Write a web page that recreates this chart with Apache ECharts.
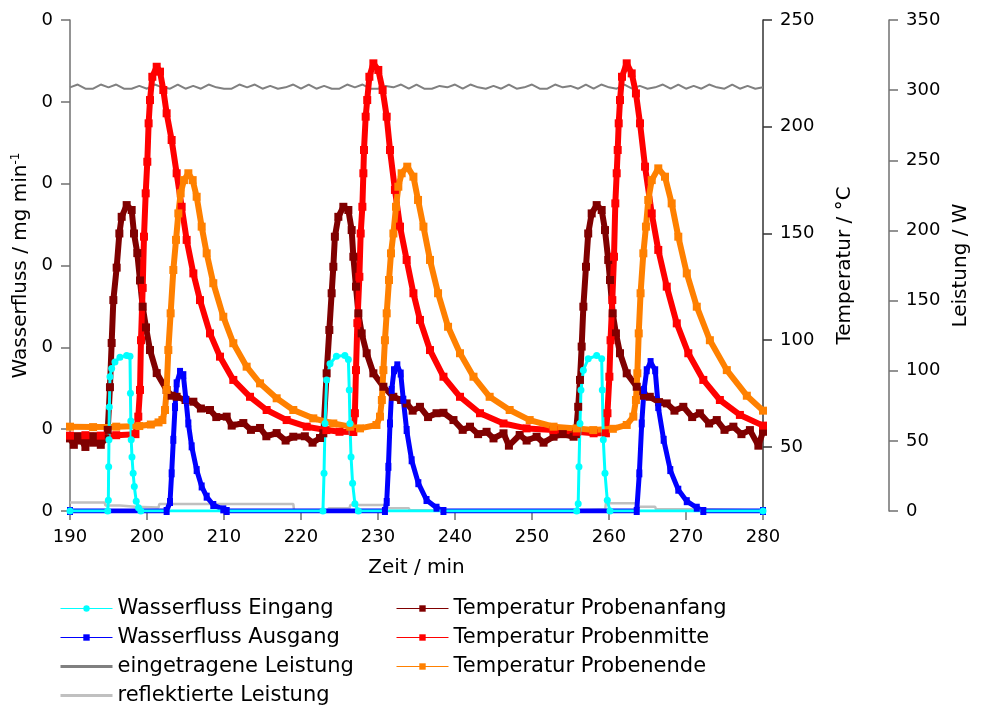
<!DOCTYPE html>
<html>
<head>
<meta charset="utf-8">
<script src="https://cdn.jsdelivr.net/npm/echarts@6/dist/echarts.min.js"></script>
<style>
html,body{margin:0;padding:0;background:#fff;}
#chart{width:982px;height:707px;}
</style>
</head>
<body>
<div id="chart"></div>
<script>
// ---------- DATA ----------
const xTicks = [190, 200, 210, 220, 230, 240, 250, 260, 270, 280];
const tempTicks = [50, 100, 150, 200, 250];
const powerTicks = [0, 50, 100, 150, 200, 250, 300, 350];

// Wasserfluss Eingang [min, mg/min]
const flowIn = [
  [190,0],[194.9,0],[194.98,0.013],[195.02,0.054],[195.06,0.087],[195.11,0.127],[195.19,0.164],
  [195.41,0.174],[195.84,0.182],[196.49,0.188],[197.36,0.19],[197.79,0.189],[197.85,0.144],
  [197.9,0.11],[197.95,0.087],[198.05,0.066],[198.2,0.046],[198.35,0.03],[198.6,0.012],[198.9,0.004],
  [199.2,0],[222.85,0],[222.99,0.046],[223.12,0.107],[223.33,0.16],[223.77,0.18],[224.6,0.189],
  [225.7,0.19],[226.15,0.185],[226.27,0.148],[226.36,0.107],[226.5,0.066],[226.7,0.034],[227.0,0.009],
  [227.45,0],[255.8,0],[256.0,0.009],[256.1,0.054],[256.23,0.107],[256.36,0.148],[256.67,0.172],
  [257.3,0.186],[258.4,0.19],[259.05,0.186],[259.13,0.148],[259.26,0.087],[259.48,0.046],
  [259.78,0.013],[260.13,0],[280,0]
];
// Wasserfluss Ausgang
const flowOut = [
  [190,0],[202.55,0],[202.99,0.011],[203.2,0.046],[203.42,0.087],[203.64,0.127],[203.85,0.156],
  [204.29,0.17],[204.72,0.166],[205.06,0.136],[205.37,0.107],[205.8,0.079],[206.45,0.05],
  [207.1,0.03],[207.75,0.0175],[208.61,0.0073],[209.91,0.002],[210.35,0],[230.9,0],[231.13,0.011],
  [231.35,0.054],[231.56,0.107],[231.78,0.148],[232.08,0.172],[232.51,0.178],[232.95,0.168],
  [233.29,0.136],[233.72,0.099],[234.37,0.062],[235.24,0.034],[236.3,0.0134],[237.6,0.004],
  [238.5,0],[263.6,0],[263.94,0.046],[264.25,0.107],[264.55,0.148],[264.9,0.172],[265.4,0.182],
  [266,0.172],[266.4,0.127],[267.1,0.087],[267.96,0.05],[269,0.026],[270.1,0.012],[271.4,0.004],
  [272.25,0],[280,0]
];
// eingetragene Leistung (W), one value per minute from 190 to 280
const powerTimes = [190,191,192,193,194,195,196,197,198,199,200,201,202,203,204,205,206,207,208,209,
  210,211,212,213,214,215,216,217,218,219,220,221,222,223,224,225,226,227,228,229,230,231,232,233,234,
  235,236,237,238,239,240,241,242,243,244,245,246,247,248,249,250,251,252,253,254,255,256,257,258,259,
  260,261,262,263,264,265,266,267,268,269,270,271,272,273,274,275,276,277,278,279,280];
const powerIn = [302,304,301,301,304,302,304,301,301,303,
  301,304,302,301,304,301,303,301,304,302,
  301,301,304,302,304,301,303,301,302,304,
  301,304,301,303,301,301,304,302,304,301,
  301,303,302,304,301,304,301,301,303,302,
  304,301,304,302,301,303,301,304,301,302,
  304,301,301,304,302,303,301,304,301,304,
  302,301,304,301,303,301,302,304,301,304,
  301,303,301,304,302,301,304,301,303,301,
  302];
// reflektierte Leistung (W)
const powerRefl = [
  [190,6],[194.5,6],[194.6,4],[196.5,4],[196.6,3],[198.5,3],[198.6,2.5],[201.5,2.5],[201.6,5],
  [219,5],[219.1,0.5],[223.5,0.5],[223.6,2],[226.3,2],[226.4,4.3],[231,4.3],[231.1,2],[234,2],
  [234.1,0.5],[256,0.5],[256.1,1.2],[259.5,1.2],[259.6,5.5],[263.5,5.5],[263.6,3],[266,3],
  [266.1,1.2],[271,1.2],[271.1,0.3],[280,0.3]
];
// Temperatur Probenanfang (°C)
const tempStart = [
  [190,54],[190.5,51],[191,55],[191.5,53],[192,50],[192.5,55],[193,52],[193.5,55],[194,51],[194.6,54],
  [194.9,58],[195.19,78],[195.41,98.7],[195.63,118.8],[196.06,134],[196.41,150],[196.71,157.8],
  [197.36,163.3],[198.01,161],[198.31,150],[198.74,140.8],[199.09,128],[199.44,115.7],[199.87,106],
  [200.39,95.4],[201.26,84.6],[202.55,76.7],[203.2,74],[203.85,73.5],[205,72],[206.02,71.2],[207,68],
  [208.18,67.3],[209,64],[210.35,64.2],[211,60],[212.51,61.2],[213.5,58],[214.68,58.9],[215.5,55],
  [216.84,56.5],[218,53],[219,54.8],[220.5,55],[221.5,52],[222.47,54.2],
  [222.9,56.4],[223.33,84.5],[223.68,104.8],[223.98,122],[224.2,134.4],[224.4,148.5],[224.85,157.8],
  [225.5,162.5],[226.15,161],[226.58,151.6],[226.8,139.1],[227.14,125.1],[227.45,112.6],[227.88,103.2],
  [228.53,93.9],[229.4,84.5],[230.7,78.2],[231.99,73.5],[233,72],[233.72,70.4],[234.5,67],[235.45,68.8],
  [236.5,64],[237.6,65.8],[238.5,66],[239.8,62.6],[241,58],[241.95,59.5],[243,56],[244.1,57.1],
  [245,54],[246.3,56.4],[247,50.6],[248.4,55.6],[249.3,53],[250.6,54.8],[251.5,52],[252.8,54.8],
  [254,56],[255.4,54.8],
  [255.7,56],[256.0,68.8],[256.23,81.4],[256.45,97],[256.67,115.7],[257.01,134.4],[257.3,150],
  [257.75,159.4],[258.4,163.3],[259.05,161],[259.48,151.6],[259.9,137.6],[260.13,128.2],[260.48,112.6],
  [260.9,103.2],[261.43,93.9],[262.3,84.5],[263.6,78.2],[264.5,74],[265.3,73.5],[266.5,71],[267.5,70.4],
  [268.5,67],[269.65,68.8],[270.8,64],[271.8,65.8],[273,61],[274,62.6],[275,58],[276.15,59.5],
  [277.2,56],[278.3,57.9],[279.4,50.6],[280,57.1]
];
// Temperatur Probenmitte (°C)
const tempMid = [
  [190,55.3],[192,55.5],[194,55.3],[196,55.5],[198.5,56],[198.87,64.2],[199.09,76.7],[199.22,100],
  [199.44,124.5],[199.61,148.5],[199.83,168.8],[200.04,183.6],[200.21,201.6],[200.39,212.5],
  [200.69,223.4],[201.26,228.1],[201.69,225.8],[202.12,217.2],[202.55,206.3],[203.2,193.8],
  [203.85,178.2],[204.5,162.5],[205.15,147],[206.02,131.3],[206.88,118.8],[208.18,103.2],
  [209.48,92.3],[211.21,81.4],[213.38,73.5],[215.54,67.3],[218.14,62.6],[220.74,59.5],[223.3,57.9],
  [225,57.1],[226.8,57],
  [227.0,65.8],[227.14,86],[227.32,108],[227.58,129.7],[227.75,150],[227.97,162.5],[228.1,178.2],
  [228.18,189.1],[228.4,204.7],[228.6,212.5],[228.88,223.4],[229.4,229.7],[230.04,226.6],[230.6,217.2],
  [231.13,204.7],[231.56,189.1],[232.2,170.4],[232.86,153.2],[233.72,137.6],[234.6,122],[235.45,109.5],
  [236.75,95.4],[238.5,82.9],[240.65,73.5],[243.25,65.8],[246.3,61],[249.3,58.7],[252.8,57.9],
  [255.8,57.1],[258,56.4],[259.6,56.4],
  [259.8,65.8],[260.05,82.9],[260.2,100],[260.43,118.8],[260.65,139.1],[260.82,164.1],[261,178.2],
  [261.13,189.1],[261.26,201.6],[261.43,212.5],[261.69,223.4],[262.3,229.7],[262.95,225],[263.5,215.6],
  [264.03,201.6],[264.68,181.3],[265.55,159.4],[266.4,142.3],[267.5,125.1],[268.8,107.9],[270.3,93.9],
  [272.25,81.4],[274.4,72],[277,65],[280,60]
];
// Temperatur Probenende (°C)
const tempEnd = [
  [190,59.5],[193,59.3],[196,59.5],[199,59.8],[200.5,60.5],[201.5,61.5],[202,62.6],[202.34,67.3],
  [202.55,76.7],[202.77,95.4],[203.07,112.6],[203.42,132.9],[203.77,147],[204.07,159.4],[204.37,168.8],
  [204.8,175],[205.37,178.2],[205.93,175],[206.45,167.2],[207.1,153.2],[207.75,140.7],[208.61,126.7],
  [209.91,111],[211.21,98.6],[212.94,87.6],[214.68,79.8],[216.84,72.8],[219,67.3],[221.6,63.4],
  [224.2,61],[226.4,59.5],[227.66,58.7],[229.8,60.3],
  [230.26,64.2],[230.5,72],[230.7,86],[230.9,100],[231.13,112.6],[231.43,128.2],[231.69,140.7],
  [232,150],[232.34,162.5],[232.64,171.9],[233.07,178.2],[233.8,181.3],[234.6,176.6],[235.2,165.7],
  [235.9,153.2],[236.75,137.6],[237.8,122],[239.1,106.3],[240.65,93.9],[242.4,82.9],[244.5,73.5],
  [247.1,67.3],[249.7,62.6],[252.8,59.5],[255.8,58.7],[257.96,57.9],[260.5,58.5],[262.3,60.3],
  [263.16,64.2],[263.5,72],[263.68,84.5],[263.86,103.2],[264.1,122],[264.46,140.7],[264.8,153.2],
  [265.1,165.7],[265.55,175],[266.4,180.5],[267.27,176.6],[268.14,164.1],[269,148.5],[270.1,131.3],
  [271.4,115.7],[273.1,100],[275.3,86],[277.9,74],[280,67]
];

const seriesNames = ['Wasserfluss Eingang','Wasserfluss Ausgang','eingetragene Leistung','reflektierte Leistung',
  'Temperatur Probenanfang','Temperatur Probenmitte','Temperatur Probenende'];

// ---------- CHART ----------
const FONT = 'DejaVu Sans';
const AXIS_COLOR = '#707070';
const chart = echarts.init(document.getElementById('chart'), null, {renderer: 'canvas'});

const powerInData = powerTimes.map((t, i) => [t, powerIn[i]]);
const LINE_ICON = 'path://M0,0H52V3H0Z';

function axisCommon() {
  return {
    axisLine: {show: true, lineStyle: {color: AXIS_COLOR, width: 1.5}},
    axisTick: {show: true, length: 9, lineStyle: {color: AXIS_COLOR, width: 1.5}},
    axisLabel: {color: '#000', fontFamily: FONT, fontSize: 18, margin: 17},
    splitLine: {show: false},
    nameTextStyle: {color: '#000', fontFamily: FONT, fontSize: 20}
  };
}
const legendText = {color: '#000', fontFamily: FONT, fontSize: 21, lineHeight: 20};

const option = {
  animation: false,
  backgroundColor: '#fff',
  grid: {left: 70, right: 219, top: 20, bottom: 196, containLabel: false},
  legend: [
    {
      orient: 'vertical', left: 60, top: 598, height: 140, padding: 0, itemWidth: 52, itemHeight: 8, itemGap: 8,
      symbolKeepAspect: true,
      data: [
        {name: seriesNames[0], lineStyle: {width: 1}},
        {name: seriesNames[1], lineStyle: {width: 1}},
        {name: seriesNames[2], icon: LINE_ICON, itemStyle: {color: '#808080'}},
        {name: seriesNames[3], icon: LINE_ICON, itemStyle: {color: '#c0c0c0'}}
      ],
      textStyle: legendText
    },
    {
      orient: 'vertical', left: 396, top: 598, height: 140, padding: 0, itemWidth: 52, itemHeight: 8, itemGap: 8,
      symbolKeepAspect: true,
      data: [
        {name: seriesNames[4], lineStyle: {width: 1}},
        {name: seriesNames[5], lineStyle: {width: 1}},
        {name: seriesNames[6], lineStyle: {width: 1}}
      ],
      textStyle: legendText
    }
  ],
  xAxis: Object.assign(axisCommon(), {
    type: 'value', min: xTicks[0], max: xTicks[xTicks.length - 1], interval: 10,
    name: 'Zeit / min', nameLocation: 'middle', nameGap: 47,
    axisLabel: {color: '#000', fontFamily: FONT, fontSize: 18, margin: 17}
  }),
  yAxis: [
    Object.assign(axisCommon(), {
      type: 'value', position: 'left', min: 0, max: 0.6, interval: 0.1,
      name: '{a|Wasserfluss / mg min}{b|-1}', nameLocation: 'middle', nameRotate: 90, nameGap: 32,
      nameTextStyle: {color: '#000', fontFamily: FONT, fontSize: 20,
        rich: {a: {fontFamily: FONT, fontSize: 20, color: '#000'},
               b: {fontFamily: FONT, fontSize: 12, color: '#000', verticalAlign: 'top', padding: [0, 0, 10, 0]}}},
      axisLabel: {color: '#000', fontFamily: FONT, fontSize: 18, margin: 17, formatter: () => '0'}
    }),
    Object.assign(axisCommon(), {
      type: 'value', position: 'right', min: 20, max: 250,
      name: 'Temperatur / °C', nameLocation: 'middle', nameRotate: 90, nameGap: 72,
      axisTick: {show: true, length: 9, lineStyle: {color: '#333', width: 1.5}, customValues: tempTicks},
      axisLine: {show: true, lineStyle: {color: '#333', width: 1.5}},
      axisLabel: {color: '#000', fontFamily: FONT, fontSize: 18, margin: 17, customValues: tempTicks}
    }),
    Object.assign(axisCommon(), {
      type: 'value', position: 'right', offset: 126, min: powerTicks[0], max: powerTicks[powerTicks.length - 1], interval: 50,
      name: 'Leistung / W', nameLocation: 'middle', nameRotate: 90, nameGap: 62
    })
  ],
  series: [
    {
      name: 'eingetragene Leistung', type: 'line', yAxisIndex: 2, data: powerInData,
      showSymbol: false, symbol: 'none', lineStyle: {color: '#808080', width: 2}, itemStyle: {color: '#808080'}
    },
    {
      name: 'reflektierte Leistung', type: 'line', yAxisIndex: 2, data: powerRefl,
      showSymbol: false, symbol: 'none', lineStyle: {color: '#c0c0c0', width: 2.5}, itemStyle: {color: '#c0c0c0'}
    },
    {
      name: 'Temperatur Probenanfang', type: 'line', yAxisIndex: 1, data: tempStart,
      symbol: 'rect', symbolSize: 8, showAllSymbol: true,
      lineStyle: {color: '#800000', width: 6}, itemStyle: {color: '#800000'}
    },
    {
      name: 'Temperatur Probenmitte', type: 'line', yAxisIndex: 1, data: tempMid,
      symbol: 'rect', symbolSize: 8, showAllSymbol: true,
      lineStyle: {color: '#ff0000', width: 6}, itemStyle: {color: '#ff0000'}
    },
    {
      name: 'Temperatur Probenende', type: 'line', yAxisIndex: 1, data: tempEnd,
      symbol: 'rect', symbolSize: 8, showAllSymbol: true,
      lineStyle: {color: '#ff8000', width: 6}, itemStyle: {color: '#ff8000'}
    },
    {
      name: 'Wasserfluss Ausgang', type: 'line', yAxisIndex: 0, data: flowOut,
      symbol: 'rect', symbolSize: [6, 8], showAllSymbol: true,
      lineStyle: {color: '#0000ff', width: 5}, itemStyle: {color: '#0000ff'}
    },
    {
      name: 'Wasserfluss Eingang', type: 'line', yAxisIndex: 0, data: flowIn,
      symbol: 'circle', symbolSize: 7, showAllSymbol: true,
      lineStyle: {color: '#00ffff', width: 3}, itemStyle: {color: '#00ffff'}
    }
  ]
};
chart.setOption(option);
</script>
</body>
</html>
